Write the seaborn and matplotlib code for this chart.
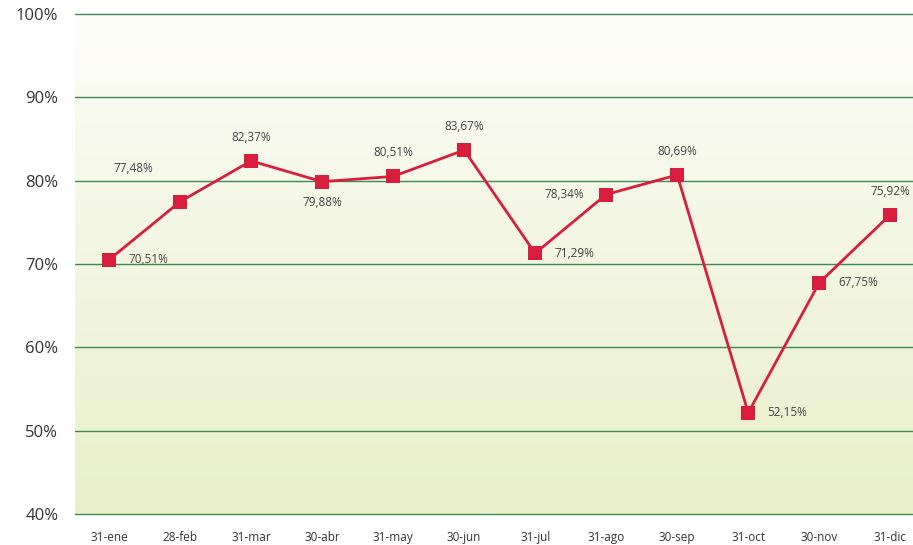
import numpy as np
import pandas as pd
import matplotlib
matplotlib.use("Agg")
import matplotlib.pyplot as plt
from matplotlib.colors import LinearSegmentedColormap
import seaborn as sns

# --- datos ---
fechas = ["31-ene", "28-feb", "31-mar", "30-abr", "31-may", "30-jun",
          "31-jul", "31-ago", "30-sep", "31-oct", "30-nov", "31-dic"]
valores = [70.51, 77.48, 82.37, 79.88, 80.51, 83.67,
           71.29, 78.34, 80.69, 52.15, 67.75, 75.92]
# posicion de cada etiqueta respecto al punto
pos_etiqueta = ["right", "upleft", "up", "down", "up", "up",
                "right", "left", "up", "right", "right", "up"]

df = pd.DataFrame({"fecha": fechas, "valor": valores})

sns.set_style("white")
plt.rcParams["font.family"] = ["Open Sans", "DejaVu Sans"]

fig = plt.figure(figsize=(9.13, 5.45), dpi=100)
ax = fig.add_axes([0.0821, 0.0569, 0.9179, 0.9174])

# fondo degradado (blanco arriba, verde claro abajo)
cmap_fondo = LinearSegmentedColormap.from_list("fondo", ["#fdfdf8", "#e8efc9"])
ax.imshow(np.linspace(0, 1, 256).reshape(-1, 1), cmap=cmap_fondo, aspect="auto",
          extent=(-0.48, 11.32, 40, 100), zorder=0, origin="upper")

sns.lineplot(data=df, x=np.arange(len(fechas)), y="valor", ax=ax, color="#d91d3c",
             linewidth=2.0, marker="s", markersize=9.5, markeredgewidth=0,
             zorder=3, sort=False)

for i, (v, p) in enumerate(zip(valores, pos_etiqueta)):
    txt = f"{v:.2f}%".replace(".", ",")
    kw = dict(textcoords="offset points", fontsize=8.5, color="#444444", va="center")
    if p == "right":
        ax.annotate(txt, (i, v), xytext=(14, 0), ha="left", **kw)
    elif p == "left":
        ax.annotate(txt, (i, v), xytext=(-16, 0), ha="right", **kw)
    elif p == "upleft":
        ax.annotate(txt, (i, v), xytext=(-34, 24), ha="center", **kw)
    elif p == "up":
        ax.annotate(txt, (i, v), xytext=(0, 17), ha="center", **kw)
    else:
        ax.annotate(txt, (i, v), xytext=(0, -15), ha="center", **kw)

ax.set_xlim(-0.48, 11.32)
ax.set_ylim(40, 100)
ax.set_yticks(range(40, 101, 10))
ax.set_yticklabels([f"{t}%" for t in range(40, 101, 10)], fontsize=12, color="#333333")
ax.set_xticks(range(len(fechas)))
ax.set_xticklabels(fechas, fontsize=8.5, color="#333333")
ax.tick_params(axis="both", length=0)
ax.tick_params(axis="x", pad=12)
ax.tick_params(axis="y", pad=12)
ax.set_xlabel("")
ax.set_ylabel("")

ax.grid(False)
for t in range(40, 101, 10):
    ax.axhline(t, color="#3d8a55", linewidth=1.0, zorder=1, clip_on=False)
for s in ax.spines.values():
    s.set_visible(False)

fig.savefig("out.png", dpi=100)
